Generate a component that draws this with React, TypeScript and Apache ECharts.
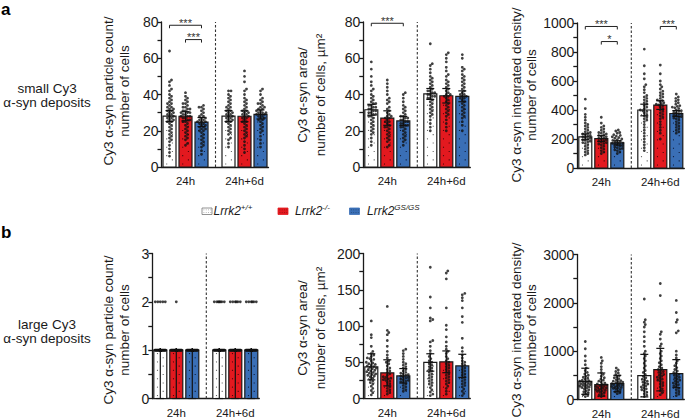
import { useEffect, useRef } from 'react';
import * as echarts from 'echarts';

// ---------------- data ----------------
const timeLabels = ['24h', '24h+6d'];
const genotypeSups = ['+/+', '-/-', 'GS/GS'];

// a) small Cy3 α-syn deposits — particle count / number of cells
const smallCountMean = [28.1, 28.0, 24.8, 28.1, 28.0, 29.0];
const smallCountErr = [3, 2.5, 2.5, 3, 3, 2.5];
const smallCountPoints = [
  [64, 48, 47, 45, 43, 42, 40, 39, 38, 37, 36, 35, 35, 34, 33, 33, 32, 32, 31, 31, 30, 30, 29, 29, 28, 28, 27, 27, 26, 26, 25, 25, 24, 23, 22, 21, 20, 19, 18, 17, 16, 15, 14, 12, 10, 8, 6],
  [41, 39, 38, 37, 36, 35, 35, 34, 33, 33, 32, 32, 31, 31, 30, 30, 30, 29, 29, 28, 28, 28, 27, 27, 26, 26, 25, 25, 24, 23, 22, 21, 20, 19, 18, 17, 16, 15, 13, 12],
  [34, 33, 33, 32, 31, 30, 29, 28, 28, 27, 27, 26, 26, 25, 25, 25, 24, 24, 23, 23, 22, 22, 21, 21, 20, 20, 19, 18, 17, 16, 15, 14, 13, 12, 11, 9, 7],
  [42, 42, 40, 39, 38, 37, 36, 35, 34, 33, 33, 32, 31, 31, 30, 30, 29, 29, 28, 28, 27, 27, 26, 26, 25, 25, 24, 23, 22, 21, 20, 19, 18, 16, 15, 13, 11],
  [53, 50, 47, 43, 42, 40, 38, 37, 36, 35, 34, 33, 32, 31, 31, 30, 30, 29, 29, 28, 28, 27, 27, 26, 25, 25, 24, 23, 22, 21, 20, 19, 18, 17, 16, 14, 12, 10, 8],
  [43, 42, 40, 38, 37, 36, 35, 35, 34, 33, 33, 32, 32, 31, 31, 30, 30, 30, 29, 29, 29, 28, 28, 27, 27, 26, 26, 25, 24, 23, 22, 21, 20, 19, 17, 15, 13, 11],
];
const smallCountBrackets = [[0, 2, 78.2], [1, 2, 70.3]];
const smallCountStars = ['***', '***'];

// a) small deposits — area / number of cells, µm²
const smallAreaMean = [31.6, 27.0, 25.4, 40.3, 39.3, 39.0];
const smallAreaErr = [3, 4, 2.5, 3, 4, 3];
const smallAreaPoints = [
  [58, 54, 50, 47, 45, 43, 42, 40, 39, 38, 37, 36, 35, 35, 34, 34, 33, 33, 32, 32, 31, 31, 30, 30, 29, 29, 28, 28, 27, 26, 25, 24, 23, 22, 21, 20, 19, 18, 16, 14, 12],
  [48, 46, 44, 42, 40, 38, 37, 36, 35, 33, 32, 31, 30, 29, 28, 28, 27, 27, 26, 25, 25, 24, 23, 22, 22, 21, 20, 19, 18, 17, 16, 15, 14, 12, 11],
  [41, 40, 38, 36, 34, 33, 32, 31, 30, 29, 28, 28, 27, 27, 26, 26, 25, 25, 24, 24, 23, 23, 22, 22, 21, 20, 19, 18, 17, 16, 15, 14, 12],
  [68, 57, 56, 54, 52, 50, 49, 48, 47, 46, 45, 44, 43, 42, 42, 41, 41, 40, 40, 39, 39, 38, 38, 37, 36, 35, 34, 33, 32, 31, 30, 29, 28, 26, 24, 22, 20],
  [63, 62, 60, 58, 55, 53, 51, 50, 48, 47, 46, 45, 44, 43, 42, 41, 40, 40, 39, 39, 38, 37, 36, 35, 34, 33, 32, 31, 30, 29, 28, 26, 24, 22, 20],
  [62, 60, 55, 54, 53, 51, 50, 49, 48, 47, 46, 45, 44, 43, 42, 41, 40, 40, 39, 39, 38, 38, 37, 36, 35, 34, 33, 32, 31, 30, 29, 28, 27, 25, 23, 20],
];
const smallAreaBrackets = [[0, 2, 79.3]];
const smallAreaStars = ['***'];

// a) small deposits — integrated density / number of cells
const smallDensMean = [215, 203, 173, 400, 434, 376];
const smallDensErr = [20, 20, 15, 40, 30, 20];
const smallDensPoints = [
  [475, 410, 370, 350, 330, 310, 300, 290, 280, 270, 260, 250, 245, 240, 235, 230, 225, 220, 215, 210, 205, 200, 195, 190, 185, 180, 175, 170, 160, 150, 140, 130, 120, 110, 100, 90],
  [350, 310, 290, 280, 270, 260, 250, 245, 240, 235, 230, 225, 220, 215, 210, 205, 200, 195, 190, 185, 180, 175, 170, 165, 160, 150, 140, 130, 120, 110, 100],
  [262, 255, 245, 240, 230, 225, 220, 215, 210, 205, 200, 195, 190, 185, 180, 175, 172, 170, 168, 165, 160, 155, 150, 145, 140, 135, 130, 125, 120, 110, 100],
  [820, 705, 650, 615, 575, 560, 540, 520, 500, 490, 480, 470, 460, 450, 440, 430, 420, 410, 400, 395, 390, 380, 370, 360, 350, 340, 330, 320, 300, 280, 260, 240, 220, 200, 180, 160, 140, 120],
  [710, 650, 600, 575, 560, 545, 530, 520, 510, 500, 490, 480, 470, 465, 460, 450, 445, 440, 435, 430, 420, 410, 400, 390, 380, 370, 360, 350, 340, 320, 300, 280, 260, 240, 200],
  [510, 490, 480, 470, 460, 450, 440, 430, 425, 420, 415, 410, 400, 395, 390, 385, 380, 375, 370, 365, 360, 355, 350, 345, 340, 330, 320, 310, 300, 290, 280, 270, 260, 250, 240],
];
const smallDensBrackets = [[0, 2, 976], [1, 2, 872], [4, 5, 976]];
const smallDensStars = ['***', '*', '***'];

// b) large Cy3 α-syn deposits — particle count / number of cells ([value, number of cells])
const largeCountMean = [1, 1, 1, 1, 1, 1];
const largeCountLow = [0, 0, 0, 0, 0, 0];
const largeCountHigh = [1, 1, 1, 1, 1, 1];
const largeCountLevels = [
  [[1, 56], [2, 5]],
  [[1, 55], [2, 1]],
  [[1, 52]],
  [[1, 56], [2, 7]],
  [[1, 55], [2, 6]],
  [[1, 52], [2, 6]],
];

// b) large deposits — area / number of cells, µm²
const largeAreaMean = [43.7, 35.4, 31.3, 49.7, 50.6, 45.0];
const largeAreaErr = [18, 18, 10, 12, 15, 16];
const largeAreaPoints = [
  [107, 88, 84, 72, 65, 62, 60, 58, 56, 55, 54, 52, 50, 49, 48, 47, 46, 45, 44, 43, 42, 41, 40, 39, 38, 37, 36, 35, 34, 33, 32, 31, 30, 28, 26, 24, 22, 20, 17, 14, 11, 8, 5],
  [127, 94, 91, 88, 80, 72, 65, 60, 56, 52, 50, 48, 45, 42, 40, 38, 36, 34, 32, 30, 29, 28, 27, 26, 25, 24, 22, 20, 18, 16, 14, 12, 10, 8, 6],
  [68, 66, 62, 58, 54, 50, 48, 46, 44, 42, 40, 38, 36, 35, 34, 33, 32, 31, 30, 29, 28, 27, 26, 25, 24, 23, 22, 20, 18, 16, 14, 12, 10],
  [181, 140, 125, 111, 109, 107, 80, 78, 72, 66, 62, 58, 55, 52, 50, 48, 46, 44, 42, 40, 38, 36, 34, 32, 30, 28, 26, 24, 22, 20, 18, 15, 12, 9, 6, 4],
  [176, 173, 165, 125, 101, 95, 85, 78, 72, 68, 65, 62, 58, 55, 52, 50, 48, 46, 44, 42, 40, 38, 36, 34, 32, 30, 28, 26, 24, 22, 20, 17, 14, 10, 6],
  [145, 143, 139, 135, 125, 113, 105, 83, 70, 65, 60, 56, 52, 50, 48, 46, 44, 42, 40, 38, 36, 34, 32, 30, 28, 26, 24, 22, 20, 18, 16, 13, 10, 7, 4],
];

// b) large deposits — integrated density / number of cells
const largeDensMean = [377, 309, 330, 494, 618, 535];
const largeDensErr = [270, 240, 170, 440, 440, 290];
const largeDensPoints = [
  [1200, 1050, 900, 800, 720, 650, 600, 560, 530, 500, 480, 460, 440, 420, 400, 390, 380, 370, 360, 350, 340, 330, 320, 310, 300, 290, 280, 270, 260, 250, 240, 220, 200, 180, 160, 140, 120, 100, 80, 60],
  [870, 800, 750, 680, 620, 560, 520, 480, 450, 420, 400, 380, 360, 340, 320, 310, 300, 290, 280, 270, 260, 250, 240, 230, 220, 210, 200, 190, 180, 170, 160, 140, 120, 100, 80, 60],
  [650, 610, 580, 550, 520, 490, 470, 450, 430, 410, 390, 380, 370, 360, 350, 340, 330, 320, 310, 300, 290, 280, 270, 260, 250, 240, 230, 220, 200, 180, 160, 140, 120],
  [2080, 1650, 1600, 1550, 1500, 1400, 1300, 1200, 1100, 1000, 950, 900, 850, 800, 750, 700, 650, 600, 560, 520, 480, 450, 420, 400, 380, 360, 340, 320, 300, 280, 260, 240, 220, 200, 180, 150, 120, 90, 60],
  [2400, 2150, 1400, 1350, 1250, 1150, 1100, 1000, 950, 900, 850, 800, 760, 720, 680, 650, 620, 600, 580, 560, 540, 520, 500, 480, 460, 440, 420, 400, 380, 350, 320, 290, 260, 220, 180, 140, 100],
  [2050, 1800, 1650, 1600, 1420, 1380, 1000, 920, 860, 800, 750, 700, 660, 620, 590, 560, 540, 520, 500, 480, 460, 440, 420, 400, 380, 360, 340, 320, 300, 280, 260, 230, 200, 170, 140, 110, 80],
];

// ---------------- layout / style ----------------
const FONT = '"Liberation Sans", Arial, Helvetica, sans-serif';
const INK = '#1a1a1a';
const SLOT_X = [8, 24, 40, 67, 83, 99];
const DIVIDER_X = 54;
const LABEL_X = [24, 83];
const AXIS_W = 107;
const PLOT_H = 145;
const BAR_W = 13;
const BAR_COLORS = ['#ffffff', '#e3191f', '#3a6fb6'];
const DOT_COLORS = ['rgba(0,0,0,0.6)', 'rgba(30,0,0,0.75)', 'rgba(0,0,20,0.75)'];

const expandLevels = (levels: number[][]) => {
  const out: number[] = [];
  levels.forEach(([v, n]) => { for (let k = 0; k < n; k++) out.push(v); });
  return out;
};
const minus = (m: number[], e: number[]) => m.map((v, i) => v - e[i]);
const plus = (m: number[], e: number[]) => m.map((v, i) => v + e[i]);

type Panel = {
  left: number; top: number; max: number; interval: number;
  mean: number[]; lo: number[]; hi: number[]; pts: number[][];
  brackets: number[][]; stars: string[];
  title: string[]; titleX: number[]; titleY: number;
};

const panels: Panel[] = [
  { left: 161.5, top: 22, max: 80, interval: 20, mean: smallCountMean, lo: minus(smallCountMean, smallCountErr), hi: plus(smallCountMean, smallCountErr), pts: smallCountPoints, brackets: smallCountBrackets, stars: smallCountStars, title: ['Cy3 α-syn particle count/', 'number of cells'], titleX: [108, 124.5], titleY: 91 },
  { left: 363.3, top: 22, max: 80, interval: 20, mean: smallAreaMean, lo: minus(smallAreaMean, smallAreaErr), hi: plus(smallAreaMean, smallAreaErr), pts: smallAreaPoints, brackets: smallAreaBrackets, stars: smallAreaStars, title: ['Cy3 α-syn area/', 'number of cells, µm²'], titleX: [302.5, 320], titleY: 95 },
  { left: 577.3, top: 23, max: 1000, interval: 200, mean: smallDensMean, lo: minus(smallDensMean, smallDensErr), hi: plus(smallDensMean, smallDensErr), pts: smallDensPoints, brackets: smallDensBrackets, stars: smallDensStars, title: ['Cy3 α-syn integrated density/', 'number of cells'], titleX: [516.5, 531], titleY: 95 },
  { left: 152.3, top: 253.5, max: 3, interval: 1, mean: largeCountMean, lo: largeCountLow, hi: largeCountHigh, pts: largeCountLevels.map(expandLevels), brackets: [], stars: [], title: ['Cy3 α-syn particle count/', 'number of cells'], titleX: [108, 124.5], titleY: 330 },
  { left: 363.3, top: 253.5, max: 200, interval: 50, mean: largeAreaMean, lo: minus(largeAreaMean, largeAreaErr), hi: plus(largeAreaMean, largeAreaErr), pts: largeAreaPoints, brackets: [], stars: [], title: ['Cy3 α-syn area/', 'number of cells, µm²'], titleX: [302, 320.5], titleY: 328 },
  { left: 577.3, top: 254.5, max: 3000, interval: 1000, mean: largeDensMean, lo: minus(largeDensMean, largeDensErr), hi: plus(largeDensMean, largeDensErr), pts: largeDensPoints, brackets: [], stars: [], title: ['Cy3 α-syn integrated density/', 'number of cells'], titleX: [516, 531], titleY: 330 },
];

// beeswarm layout of the points in pixel space (positions only)
function swarm(vals: number[], pxPerUnit: number) {
  const D = 2.5, MAXOFF = 5.5, STEP = 0.5;
  const cands: number[] = [0];
  for (let s = STEP; s <= MAXOFF + 1e-9; s += STEP) cands.push(s, -s);
  const idx = vals.map((_, i) => i).sort((a, b) => vals[a] - vals[b]);
  const placed: number[][] = [];
  const offs = new Array(vals.length).fill(0);
  for (const i of idx) {
    const py = vals[i] * pxPerUnit;
    let best = 0, bestD = -1;
    for (const c of cands) {
      let md = Infinity;
      for (const q of placed) {
        const dy = py - q[1];
        if (Math.abs(dy) >= D) continue;
        const d = Math.hypot(c - q[0], dy);
        if (d < md) md = d;
      }
      if (md >= D) { best = c; break; }
      if (md > bestD) { bestD = md; best = c; }
    }
    offs[i] = best;
    placed.push([best, py]);
  }
  return offs;
}

function buildOption() {
  const lineStyle = { color: INK, width: 1.3 };
  const series: any[] = [];
  panels.forEach((p, pi) => {
    const axes = { xAxisIndex: pi, yAxisIndex: pi };
    // divider
    series.push({
      type: 'custom', ...axes, z: 1, silent: true, data: [[DIVIDER_X, p.max]],
      renderItem: (_: any, api: any) => {
        const a = api.coord([api.value(0), 0]);
        const b = api.coord([api.value(0), api.value(1)]);
        return { type: 'line', shape: { x1: a[0], y1: a[1], x2: b[0], y2: b[1] }, style: { stroke: '#333', lineWidth: 1.1, lineDash: [2.5, 2] } };
      },
    });
    // bars
    series.push({
      type: 'custom', ...axes, z: 2, silent: true,
      data: p.mean.map((m, g) => [SLOT_X[g], m, g % 3]),
      renderItem: (_: any, api: any) => {
        const cx = api.value(0), m = api.value(1), ci = api.value(2);
        const tl = api.coord([cx - BAR_W / 2, m]);
        const br = api.coord([cx + BAR_W / 2, 0]);
        const w = br[0] - tl[0], h = br[1] - tl[1];
        const children: any[] = [{ type: 'rect', shape: { x: tl[0], y: tl[1], width: w, height: h }, style: { fill: BAR_COLORS[ci], stroke: INK, lineWidth: 1.2 } }];
        let row = 0;
        for (let yy = br[1] - 3; yy > tl[1] + 2; yy -= 4.2, row++) {
          const xx = tl[0] + w * (row % 2 === 0 ? 0.28 : 0.72);
          children.push({ type: 'rect', shape: { x: xx - 0.5, y: yy - 0.5, width: 1.1, height: 1.1 }, style: { fill: DOT_COLORS[ci] } });
        }
        return { type: 'group', children };
      },
    });
    // points
    const pxPerUnit = PLOT_H / p.max;
    const pts: number[][] = [];
    p.pts.forEach((vals, g) => {
      const offs = swarm(vals, pxPerUnit);
      vals.forEach((v, k) => pts.push([SLOT_X[g] + offs[k], v]));
    });
    series.push({
      type: 'scatter', ...axes, z: 3, silent: true, data: pts,
      symbol: 'circle', symbolSize: 2.8, itemStyle: { color: '#111' },
    });
    // error bars
    series.push({
      type: 'custom', ...axes, z: 4, silent: true,
      data: p.mean.map((_, g) => [SLOT_X[g], p.lo[g], p.hi[g]]),
      renderItem: (_: any, api: any) => {
        const cx = api.value(0);
        const a = api.coord([cx, api.value(1)]);
        const b = api.coord([cx, api.value(2)]);
        const cw = 4;
        const st = { stroke: '#111', lineWidth: 1.2 };
        return {
          type: 'group', children: [
            { type: 'line', shape: { x1: a[0], y1: a[1], x2: b[0], y2: b[1] }, style: st },
            { type: 'line', shape: { x1: a[0] - cw, y1: a[1], x2: a[0] + cw, y2: a[1] }, style: st },
            { type: 'line', shape: { x1: b[0] - cw, y1: b[1], x2: b[0] + cw, y2: b[1] }, style: st },
          ],
        };
      },
    });
    // significance brackets
    if (p.brackets.length) {
      series.push({
        type: 'custom', ...axes, z: 4, silent: true,
        data: p.brackets.map((b, k) => [SLOT_X[b[0]], SLOT_X[b[1]], b[2], k]),
        renderItem: (_: any, api: any) => {
          const p1 = api.coord([api.value(0), api.value(2)]);
          const p2 = api.coord([api.value(1), api.value(2)]);
          const label = p.stars[api.value(3)];
          return {
            type: 'group', children: [
              { type: 'polyline', shape: { points: [[p1[0], p1[1] + 3], [p1[0], p1[1]], [p2[0], p2[1]], [p2[0], p2[1] + 3]] }, style: { stroke: '#222', lineWidth: 1, fill: null } },
              { type: 'text', x: (p1[0] + p2[0]) / 2, y: p1[1] - 2.5, style: { text: label, fontSize: 11, fontFamily: FONT, fill: '#333', align: 'center', verticalAlign: 'middle', textAlign: 'center', textVerticalAlign: 'middle' } },
            ],
          };
        },
      });
    }
  });

  const txt = (x: number, y: number, text: string, extra: any = {}, rot = 0) => ({
    type: 'text', x, y, rotation: rot, silent: true,
    style: { text, fontFamily: FONT, fontSize: 13.5, fill: INK, align: 'center', verticalAlign: 'middle', textAlign: 'center', textVerticalAlign: 'middle', ...extra },
  });

  const graphic: any[] = [];
  panels.forEach((p) => {
    graphic.push(txt(p.titleX[0], p.titleY, p.title[0], {}, Math.PI / 2));
    graphic.push(txt(p.titleX[1], p.titleY, p.title[1], {}, Math.PI / 2));
  });
  graphic.push(txt(47, 88.5, 'small Cy3'));
  graphic.push(txt(47, 102.5, 'α-syn deposits'));
  graphic.push(txt(47, 324, 'large Cy3'));
  graphic.push(txt(47, 338, 'α-syn deposits'));
  graphic.push(txt(1, 9, 'a', { fontSize: 17, fontWeight: 'bold', align: 'left', textAlign: 'left', fill: '#000' }));
  graphic.push(txt(1, 232, 'b', { fontSize: 17, fontWeight: 'bold', align: 'left', textAlign: 'left', fill: '#000' }));

  // legend
  const legBoxX = [202, 278, 349.5];
  const legTextX = [213.5, 295, 367];
  genotypeSups.forEach((sup, i) => {
    graphic.push({ type: 'rect', silent: true, shape: { x: legBoxX[i], y: 208, width: 10, height: 6.5 }, style: { fill: BAR_COLORS[i], stroke: i === 0 ? '#777' : BAR_COLORS[i], lineWidth: 0.8 } });
    for (let c = 0; c < 4; c++) {
      for (let r = 0; r < 2; r++) {
        graphic.push({ type: 'rect', silent: true, shape: { x: legBoxX[i] + 1.5 + c * 2.3, y: 209.5 + r * 2.5, width: 0.8, height: 0.8 }, style: { fill: i === 0 ? 'rgba(0,0,0,0.45)' : 'rgba(0,0,0,0.4)' } });
      }
    }
    graphic.push({
      type: 'text', silent: true, x: legTextX[i], y: 211,
      style: {
        text: '{i|Lrrk2}{s|' + sup + '}', fill: INK, align: 'left', verticalAlign: 'middle', textAlign: 'left', textVerticalAlign: 'middle',
        rich: {
          i: { fontFamily: FONT, fontStyle: 'italic', fontSize: 12, fill: INK },
          s: { fontFamily: FONT, fontStyle: 'italic', fontSize: 8, fill: INK, padding: [0, 0, 8, 0] },
        },
      },
    });
  });

  return {
    animation: false,
    textStyle: { fontFamily: FONT },
    grid: panels.map((p) => ({ left: p.left, top: p.top, width: AXIS_W, height: PLOT_H, containLabel: false })),
    xAxis: panels.map((_, i) => ({
      type: 'value', gridIndex: i, min: 0, max: AXIS_W,
      axisLine: { show: true, onZero: false, lineStyle },
      axisTick: { show: false },
      splitLine: { show: false },
      axisLabel: {
        customValues: LABEL_X,
        formatter: (v: number) => (Math.abs(v - LABEL_X[0]) < 0.5 ? timeLabels[0] : timeLabels[1]),
        fontSize: 11.5, color: INK, margin: 8, fontFamily: FONT,
      },
    })),
    yAxis: panels.map((p, i) => ({
      type: 'value', gridIndex: i, min: 0, max: p.max, interval: p.interval,
      axisLine: { show: true, onZero: false, lineStyle },
      axisTick: { show: true, length: 4, lineStyle },
      minorTick: { show: true, splitNumber: 2, length: 4, lineStyle },
      splitLine: { show: false },
      minorSplitLine: { show: false },
      axisLabel: { fontSize: 14, color: INK, margin: 3, fontFamily: FONT, formatter: (v: number) => String(v) },
    })),
    series,
    graphic,
  };
}

export default function App() {
  const ref = useRef<HTMLDivElement>(null);
  useEffect(() => {
    if (!ref.current) return;
    const chart = echarts.init(ref.current, undefined, { renderer: 'svg' });
    chart.setOption(buildOption() as any);
    return () => chart.dispose();
  }, []);
  return <div ref={ref} style={{ position: 'fixed', left: 0, top: 0, width: 685, height: 420, background: '#fff' }} />;
}
